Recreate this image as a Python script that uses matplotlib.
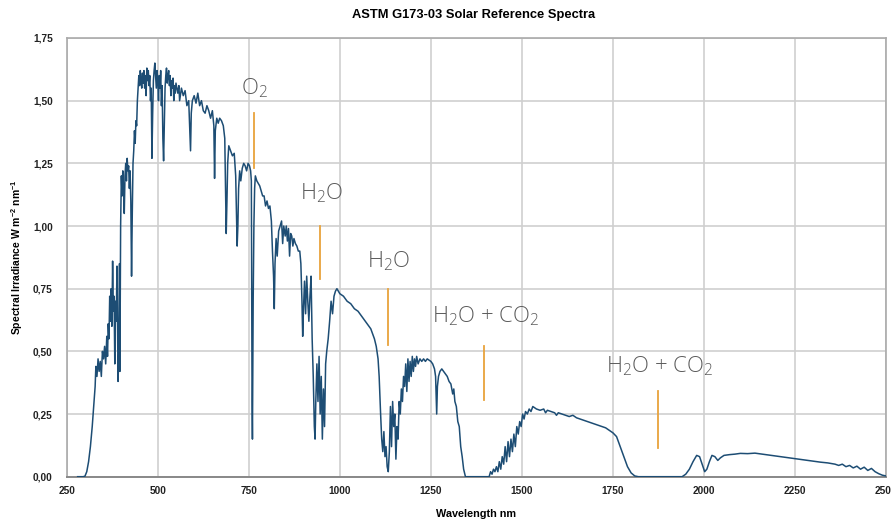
import matplotlib
matplotlib.use("Agg")
import matplotlib.pyplot as plt
from matplotlib.ticker import FuncFormatter

plt.rcParams['mathtext.default'] = 'regular'

# ---- data ----
wavelength = [
    280, 295, 300, 305, 310, 315, 320, 325, 328, 330, 333, 336, 339, 342, 345, 348, 351, 354, 357, 360,
    362, 364, 366, 368, 370, 372, 374, 376, 378, 380, 382, 384, 386, 388, 390, 391, 393, 395, 396, 398,
    400, 402, 404, 406, 408, 410, 412, 414, 416, 418, 420, 422, 424, 426, 428, 430, 432, 434, 436, 438,
    440, 442, 444, 446, 448, 450, 452, 454, 456, 458, 460, 462, 464, 466, 468, 470, 472, 474, 476, 478,
    480, 482, 484, 486, 488, 490, 492, 494, 496, 498, 500, 502, 504, 506, 508, 510, 512, 514, 516, 518,
    520, 522, 524, 526, 528, 530, 532, 534, 536, 538, 540, 542, 544, 546, 548, 550, 555, 558, 560, 565,
    570, 575, 580, 585, 588, 590, 592, 595, 600, 605, 610, 615, 620, 625, 630, 635, 640, 645, 650, 654,
    656, 658, 662, 666, 670, 675, 680, 684, 686, 688, 690, 692, 695, 700, 705, 710, 714, 716, 718, 720,
    722, 725, 728, 732, 736, 740, 744, 748, 752, 755, 757, 759, 760, 761, 762, 764, 766, 768, 772, 776,
    780, 784, 788, 792, 796, 800, 804, 808, 812, 815, 818, 820, 822, 825, 828, 832, 836, 840, 843, 846,
    850, 853, 856, 859, 862, 865, 868, 871, 874, 878, 882, 886, 890, 893, 896, 898, 900, 903, 906, 909,
    912, 915, 918, 921, 924, 927, 930, 932, 934, 937, 940, 943, 946, 949, 952, 955, 958, 961, 964, 968,
    972, 976, 980, 984, 988, 992, 996, 1000, 1010, 1020, 1030, 1040, 1050, 1060, 1070, 1080, 1085, 1090, 1095, 1100,
    1105, 1108, 1112, 1115, 1118, 1121, 1124, 1127, 1130, 1133, 1136, 1139, 1142, 1145, 1148, 1151, 1154, 1157, 1160, 1163,
    1166, 1169, 1172, 1175, 1178, 1181, 1184, 1187, 1190, 1193, 1196, 1199, 1202, 1205, 1208, 1211, 1215, 1220, 1225, 1230,
    1235, 1240, 1245, 1250, 1255, 1260, 1263, 1266, 1268, 1271, 1275, 1280, 1285, 1290, 1295, 1300, 1305, 1310, 1313, 1316,
    1320, 1324, 1328, 1332, 1336, 1340, 1345, 1410, 1414, 1418, 1422, 1426, 1430, 1434, 1438, 1442, 1446, 1450, 1454, 1458,
    1462, 1466, 1470, 1474, 1478, 1482, 1486, 1490, 1494, 1498, 1502, 1506, 1510, 1515, 1520, 1525, 1530, 1540, 1550, 1560,
    1565, 1570, 1580, 1590, 1595, 1600, 1610, 1620, 1630, 1640, 1650, 1660, 1670, 1680, 1690, 1700, 1710, 1720, 1730, 1740,
    1750, 1760, 1770, 1780, 1790, 1800, 1810, 1820, 1940, 1950, 1960, 1970, 1980, 1988, 1995, 2002, 2008, 2015, 2022, 2030,
    2038, 2045, 2055, 2070, 2085, 2100, 2120, 2140, 2160, 2180, 2200, 2220, 2240, 2260, 2280, 2300, 2320, 2340, 2360, 2370,
    2380, 2390, 2400, 2410, 2420, 2430, 2440, 2450, 2460, 2470, 2480, 2490, 2500,
]

irradiance = [
    0.0, 0.0, 0.002, 0.02, 0.06, 0.12, 0.20, 0.30, 0.36, 0.44, 0.40, 0.47, 0.42, 0.46, 0.40, 0.50, 0.47, 0.52, 0.45, 0.56,
    0.48, 0.61, 0.55, 0.72, 0.62, 0.75, 0.60, 0.86, 0.66, 0.72, 0.45, 0.70, 0.62, 0.84, 0.55, 0.38, 0.50, 0.85, 0.42, 1.00,
    1.20, 1.12, 1.22, 1.15, 1.05, 1.20, 1.25, 1.18, 1.27, 1.22, 1.24, 1.15, 1.22, 1.10, 0.80, 1.05, 1.25, 1.30, 1.38, 1.33,
    1.42, 1.40, 1.50, 1.55, 1.60, 1.56, 1.62, 1.58, 1.55, 1.61, 1.57, 1.62, 1.55, 1.60, 1.52, 1.63, 1.58, 1.62, 1.56, 1.60,
    1.50, 1.55, 1.27, 1.45, 1.58, 1.62, 1.65, 1.60, 1.55, 1.62, 1.58, 1.50, 1.60, 1.55, 1.62, 1.48, 1.56, 1.35, 1.26, 1.40,
    1.55, 1.60, 1.63, 1.57, 1.60, 1.62, 1.56, 1.60, 1.52, 1.58, 1.55, 1.59, 1.50, 1.56, 1.53, 1.57, 1.53, 1.56, 1.50, 1.55,
    1.52, 1.54, 1.48, 1.50, 1.38, 1.30, 1.45, 1.50, 1.52, 1.49, 1.53, 1.48, 1.50, 1.46, 1.45, 1.48, 1.46, 1.43, 1.46, 1.40,
    1.19, 1.38, 1.43, 1.41, 1.43, 1.42, 1.40, 1.35, 1.15, 0.97, 1.10, 1.25, 1.32, 1.30, 1.28, 1.29, 1.20, 1.05, 0.92, 1.00,
    1.15, 1.22, 1.18, 1.23, 1.25, 1.24, 1.22, 1.25, 1.24, 1.22, 1.18, 0.30, 0.15, 0.40, 0.70, 1.00, 1.15, 1.20, 1.18, 1.17,
    1.16, 1.14, 1.12, 1.12, 1.08, 1.10, 1.07, 1.08, 1.02, 0.90, 0.80, 0.67, 0.85, 0.95, 0.88, 0.98, 1.00, 1.02, 0.93, 1.00,
    0.96, 1.00, 0.94, 0.99, 0.88, 0.97, 0.96, 0.92, 0.95, 0.93, 0.92, 0.90, 0.90, 0.85, 0.70, 0.56, 0.66, 0.78, 0.65, 0.80,
    0.70, 0.62, 0.72, 0.80, 0.55, 0.40, 0.20, 0.15, 0.30, 0.45, 0.30, 0.48, 0.25, 0.40, 0.15, 0.35, 0.20, 0.45, 0.50, 0.55,
    0.62, 0.70, 0.65, 0.72, 0.74, 0.75, 0.74, 0.73, 0.72, 0.70, 0.69, 0.67, 0.66, 0.64, 0.62, 0.60, 0.59, 0.57, 0.55, 0.52,
    0.47, 0.40, 0.25, 0.15, 0.10, 0.18, 0.08, 0.12, 0.04, 0.02, 0.10, 0.28, 0.12, 0.30, 0.20, 0.25, 0.07, 0.20, 0.15, 0.30,
    0.25, 0.35, 0.30, 0.40, 0.36, 0.45, 0.34, 0.47, 0.38, 0.46, 0.40, 0.48, 0.42, 0.47, 0.44, 0.48, 0.45, 0.47, 0.46, 0.47,
    0.46, 0.47, 0.465, 0.46, 0.45, 0.43, 0.40, 0.25, 0.36, 0.40, 0.42, 0.43, 0.42, 0.41, 0.40, 0.38, 0.37, 0.33, 0.35, 0.30,
    0.28, 0.22, 0.20, 0.12, 0.08, 0.03, 0.0, 0.0, 0.02, 0.01, 0.03, 0.02, 0.04, 0.02, 0.06, 0.03, 0.08, 0.05, 0.12, 0.06,
    0.14, 0.08, 0.15, 0.10, 0.17, 0.12, 0.20, 0.17, 0.22, 0.20, 0.25, 0.23, 0.26, 0.25, 0.27, 0.26, 0.28, 0.27, 0.265, 0.27,
    0.255, 0.265, 0.26, 0.255, 0.245, 0.255, 0.25, 0.245, 0.24, 0.245, 0.235, 0.23, 0.225, 0.22, 0.215, 0.21, 0.205, 0.20, 0.195, 0.185,
    0.175, 0.16, 0.12, 0.08, 0.04, 0.015, 0.003, 0.0, 0.0, 0.01, 0.03, 0.06, 0.085, 0.08, 0.05, 0.02, 0.03, 0.06, 0.085, 0.08,
    0.065, 0.075, 0.085, 0.088, 0.09, 0.093, 0.092, 0.094, 0.09, 0.086, 0.082, 0.078, 0.074, 0.07, 0.066, 0.062, 0.058, 0.055, 0.05, 0.045,
    0.05, 0.04, 0.045, 0.035, 0.042, 0.03, 0.038, 0.025, 0.033, 0.02, 0.012, 0.006, 0.003,
]

band_labels = ["O$_2$", "H$_2$O", "H$_2$O", "H$_2$O + CO$_2$", "H$_2$O + CO$_2$"]
band_wavelength = [764, 946, 1131, 1396, 1875]
band_line_top = [1.45, 1.00, 0.75, 0.52, 0.34]
band_line_bottom = [1.23, 0.79, 0.525, 0.305, 0.116]
band_label_x = [767, 950, 1135, 1400, 1880]
band_label_y = [1.55, 1.13, 0.86, 0.64, 0.44]

x_ticks = [250, 500, 750, 1000, 1250, 1500, 1750, 2000, 2250, 2500]
y_ticks = [0.0, 0.25, 0.50, 0.75, 1.00, 1.25, 1.50, 1.75]

# ---- figure ----
fig = plt.figure(figsize=(8.91, 5.19), dpi=100)
ax = fig.add_axes([0.0749, 0.0815, 0.9195, 0.8453])

ax.plot(wavelength, irradiance, color='#1d4d74', lw=1.1, zorder=3)

for xw, yt, yb in zip(band_wavelength, band_line_top, band_line_bottom):
    ax.plot([xw, xw], [yb, yt], color='#e8a33c', lw=1.3, zorder=4)
for lab, lx, ly in zip(band_labels, band_label_x, band_label_y):
    ax.text(lx, ly, lab, ha='center', va='center', fontsize=16, color='#5a5a5a',
            family='Open Sans', fontweight='light', zorder=5)

ax.set_xlim(250, 2500)
ax.set_ylim(0, 1.75)
ax.set_xticks(x_ticks)
ax.set_yticks(y_ticks)
ax.yaxis.set_major_formatter(FuncFormatter(lambda v, p: f"{v:.2f}".replace('.', ',')))
ax.tick_params(axis='both', length=0, labelsize=7.3, colors='#222222')
ax.tick_params(axis='y', pad=10)
ax.tick_params(axis='x', pad=7)
for lbl in ax.get_xticklabels() + ax.get_yticklabels():
    lbl.set_fontweight('bold')
    lbl.set_family('Liberation Sans')

ax.grid(True, color='#cfcfcf', lw=1.2, zorder=0)
for side in ['top', 'right', 'left']:
    ax.spines[side].set_color('#aaaaaa')
    ax.spines[side].set_linewidth(1.2)
ax.spines['bottom'].set_color('#888888')
ax.spines['bottom'].set_linewidth(1.4)

ax.set_xlabel("Wavelength nm", fontsize=7.8, fontweight='bold', family='Liberation Sans', labelpad=9)
ax.set_ylabel("Spectral Irradiance W m$^{-2}$ nm$^{-1}$", fontsize=7.5, fontweight='bold',
              family='Liberation Sans', labelpad=6)
fig.text(0.532, 0.972, "ASTM G173-03 Solar Reference Spectra", ha='center', va='center',
         fontsize=9.3, fontweight='bold', family='Liberation Sans')

fig.savefig("out.png", dpi=100)
